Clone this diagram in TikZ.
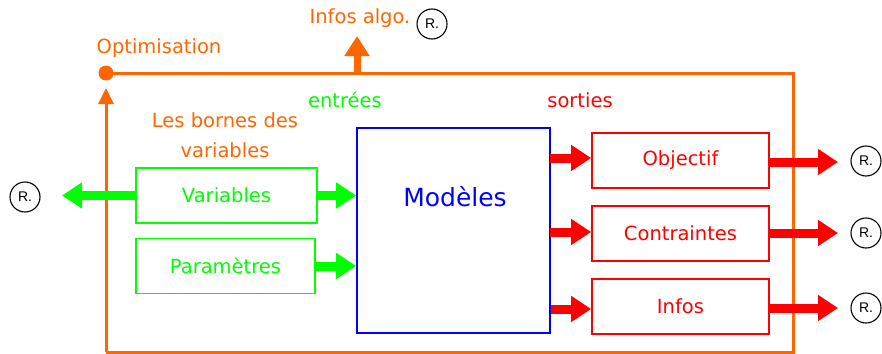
\documentclass[tikz,border=0pt]{standalone}
\usepackage{fontspec}
\setmainfont{DejaVu Sans}
\newfontfamily\rfont{Liberation Sans}
\usetikzlibrary{arrows.meta}
\definecolor{orng}{HTML}{FF6600}
\definecolor{grn}{HTML}{00FF00}
\definecolor{rd}{HTML}{FF0000}
\definecolor{bl}{HTML}{0000FF}
\tikzset{
  bigarrow/.style={line width=9pt,-{Triangle[length=20pt,width=25pt]}},
  rcirc/.style={circle,draw=black,line width=1.1pt,minimum size=30pt,inner sep=0pt,font=\rfont\fontsize{14}{14}\selectfont},
  gbox/.style={draw=grn,line width=1.8pt,minimum width=181pt,minimum height=55pt,inner sep=0pt,text=grn,font=\fontsize{19.5}{22}\selectfont},
  rbox/.style={draw=rd,line width=1.8pt,minimum width=177pt,minimum height=55pt,inner sep=0pt,text=rd,font=\fontsize{19.5}{22}\selectfont},
  lbl/.style={font=\fontsize{19.5}{22}\selectfont,inner sep=0pt},
}
\begin{document}
\begin{tikzpicture}[x=1pt,y=-1pt]
\useasboundingbox (0,0) rectangle (882,353);
% frame
\coordinate (dot) at (106,73);
\coordinate (tr) at (793,73);
\coordinate (br) at (793,352);
\coordinate (bl) at (106,352);
\coordinate (lt) at (106,88);
\draw[orng,line width=3pt] (dot) -- (tr) -- (br) -- (bl) -- ++(0,0);
\draw[orng,line width=3pt,-{Triangle[length=16pt,width=15pt]}] (bl) -- (lt);
\fill[orng] (dot) circle (7.5pt);
\node[lbl,text=orng] (opt) at (159,48) {Optimisation};
% infos algo
\coordinate (ia0) at (357,74);
\coordinate (ia1) at (357,36);
\draw[orng,line width=7pt,-{Triangle[length=20pt,width=24pt]}] (ia0) -- (ia1);
\node[lbl,text=orng] (ialgo) at (360,18) {Infos algo.};
\node[rcirc] (r0) at (432,24) {R.};
% labels
\node[lbl,text=grn] (entr) at (345,100) {entrées};
\node[lbl,text=rd] (sort) at (580,100) {sorties};
\node[lbl,text=orng,align=center,font=\fontsize{19.5}{30}\selectfont] (born) at (225,135) {Les bornes des\\variables};
% boxes
\node[gbox] (var) at (226.5,195.5) {Variables};
\node[gbox,minimum width=179pt] (par) at (225.5,266) {Paramètres};
\node[draw=bl,line width=1.8pt,minimum width=193pt,minimum height=205pt,inner sep=0pt] (mod) at (453.5,230.5) {};
\node[lbl,text=bl,font=\fontsize{25}{28}\selectfont] (modt) at (455,197) {Modèles};
\node[rbox] (obj) at (680.5,160.5) {Objectif};
\node[rbox] (con) at (680.5,233.5) {Contraintes};
\node[rbox] (inf) at (680.5,306.5) {Infos};
% R circles
\node[rcirc] (rl) at (25,197) {R.};
\node[rcirc] (r1) at (866,161) {R.};
\node[rcirc] (r2) at (866,233) {R.};
\node[rcirc] (r3) at (866,308) {R.};
% green arrows
\draw[bigarrow,grn] (var.east) -- (var.east -| mod.west);
\draw[bigarrow,grn] (par.east) -- (par.east -| mod.west);
\coordinate (lv) at (62,195.5);
\draw[bigarrow,grn] (var.west) -- (lv);
% red arrows
\coordinate (m1) at (550,158);
\coordinate (m2) at (550,232);
\coordinate (m3) at (551,309);
\draw[bigarrow,rd] (m1) -- (m1 -| obj.west);
\draw[bigarrow,rd] (m2) -- (m2 -| con.west);
\draw[bigarrow,rd] (m3) -- (m3 -| inf.west);
\coordinate (o1) at (838,162);
\coordinate (o2) at (838,233);
\coordinate (o3) at (838,308);
\draw[bigarrow,rd] (obj.east |- o1) -- (o1);
\draw[bigarrow,rd] (con.east |- o2) -- (o2);
\draw[bigarrow,rd] (inf.east |- o3) -- (o3);
\end{tikzpicture}
\end{document}
